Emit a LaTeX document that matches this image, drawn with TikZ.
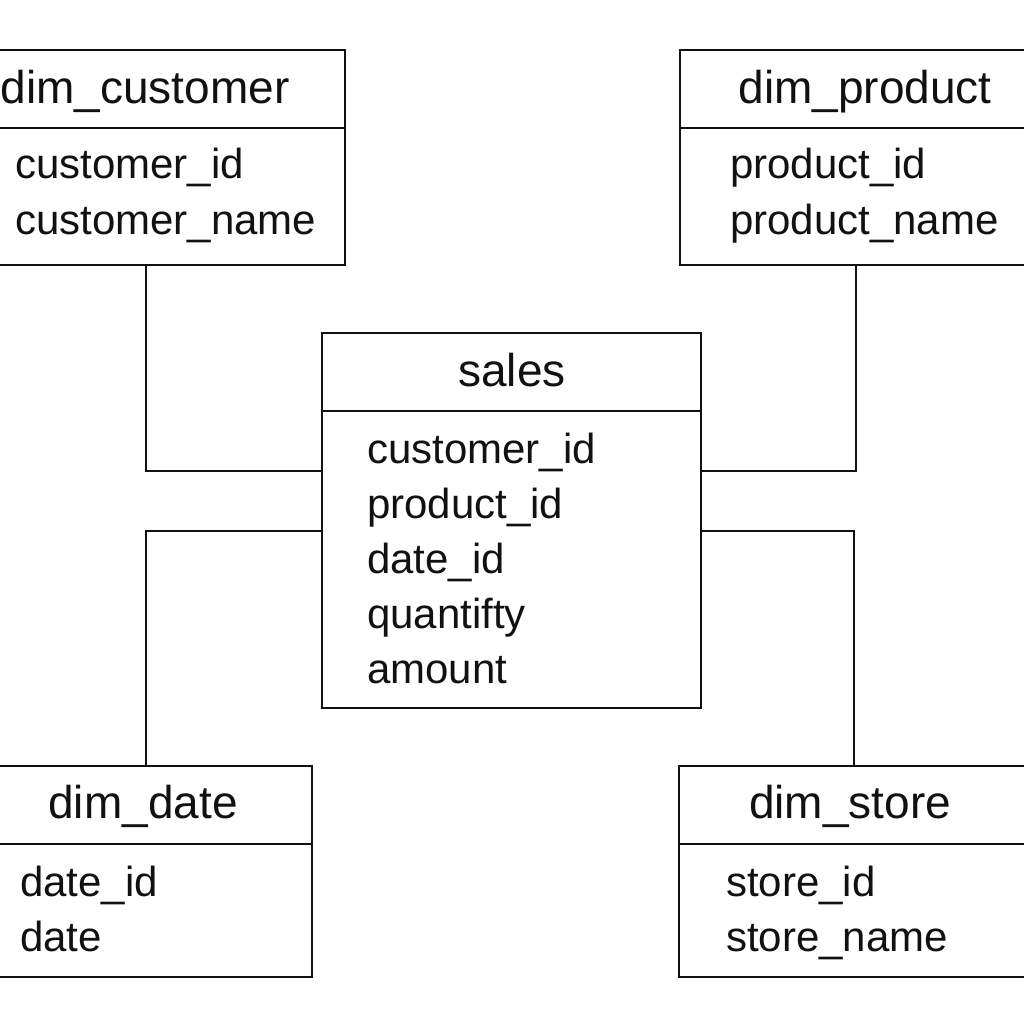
\documentclass[tikz,border=0pt]{standalone}
\usepackage{fontspec}
\setmainfont{Liberation Sans}
\usepackage{tikz}
\usetikzlibrary{positioning, calc}
\definecolor{ink}{HTML}{111111}

\tikzset{
  tbl/.style={draw=ink, line width=2.9pt, rectangle, inner sep=0pt, outer sep=0pt},
  ttl/.style={anchor=base, text=ink, inner sep=0pt, font=\fontsize{46}{55}\selectfont},
  fld/.style={anchor=base west, text=ink, inner sep=0pt, font=\fontsize{42}{55}\selectfont},
  link/.style={draw=ink, line width=2.9pt}
}

\begin{document}
\begin{tikzpicture}[x=1pt, y=-1pt]
    \useasboundingbox (0,0) rectangle (1024,1024);

    % tables
    \node[tbl, minimum width=398pt, minimum height=215pt] (cust) at (146,157.5) {};
    \node[tbl, minimum width=352pt, minimum height=215pt] (prod) at (856,157.5) {};
    \node[tbl, minimum width=379pt, minimum height=375pt] (sales) at (511.5,520.5) {};
    \node[tbl, minimum width=332pt, minimum height=211pt] (date) at (146,871.5) {};
    \node[tbl, minimum width=350pt, minimum height=211pt] (store) at (854,871.5) {};

    % header lines
    \foreach \t in {cust, prod, sales, date, store} {
      \draw[link] ([yshift=-78pt]\t.north west) -- ([yshift=-78pt]\t.north east);
    }

    % titles
    \node[ttl] (custT) at (145,104) {dim\_customer};
    \node[ttl] (prodT) at (865,104) {dim\_product};
    \node[ttl] (salesT) at (512,386) {sales};
    \node[ttl] (dateT) at (143,818) {dim\_date};
    \node[ttl] (storeT) at (850,818) {dim\_store};

    % columns
    \foreach \f [count=\i from 0] in {customer\_id, customer\_name}
      \node[fld] (custF\i) at (15,179+55*\i) {\f};
    \foreach \f [count=\i from 0] in {product\_id, product\_name}
      \node[fld] (prodF\i) at (730,179+55*\i) {\f};
    \foreach \f [count=\i from 0] in {customer\_id, product\_id, date\_id, quantifty, amount}
      \node[fld] (salesF\i) at (367,463+55*\i) {\f};
    \foreach \f [count=\i from 0] in {date\_id, date}
      \node[fld] (dateF\i) at (20,896+55*\i) {\f};
    \foreach \f [count=\i from 0] in {store\_id, store\_name}
      \node[fld] (storeF\i) at (726,896+55*\i) {\f};

    % links
    \draw[link] (cust.south) |- ([yshift=49.5pt]sales.west);
    \draw[link] (prod.south) |- ([yshift=49.5pt]sales.east);
    \draw[link] (date.north) |- ([yshift=-10.5pt]sales.west);
    \draw[link] (store.north) |- ([yshift=-10.5pt]sales.east);
\end{tikzpicture}
\end{document}
